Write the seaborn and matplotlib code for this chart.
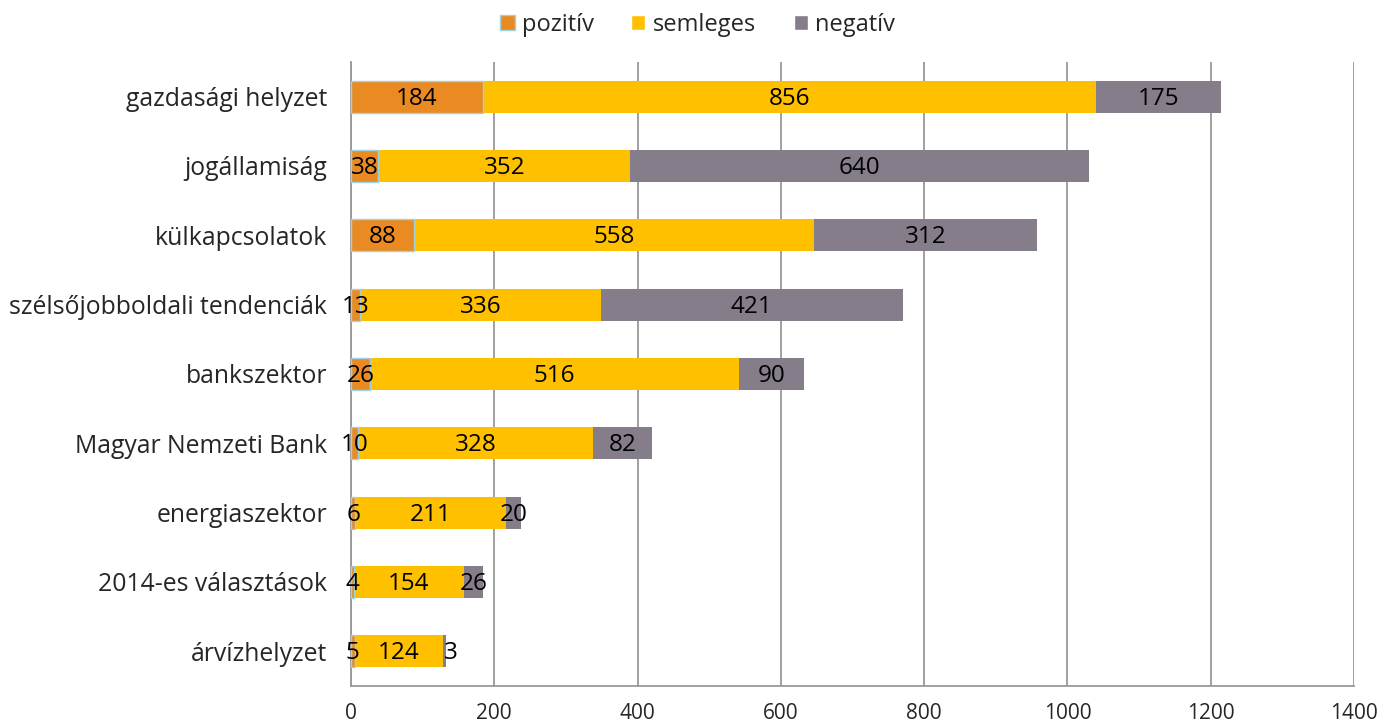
import matplotlib
matplotlib.use("Agg")
import matplotlib.pyplot as plt
import seaborn as sns
import pandas as pd
import numpy as np
from matplotlib.patches import Patch

categories = ["gazdasági helyzet", "jogállamiság", "külkapcsolatok",
              "szélsőjobboldali tendenciák", "bankszektor", "Magyar Nemzeti Bank",
              "energiaszektor", "2014-es választások", "árvízhelyzet"]
pozitiv = [184, 38, 88, 13, 26, 10, 6, 4, 5]
semleges = [856, 352, 558, 336, 516, 328, 211, 154, 124]
negativ = [175, 640, 312, 421, 90, 82, 20, 26, 3]
x_ticks = [0, 200, 400, 600, 800, 1000, 1200, 1400]

sns.set_theme(style="white")
plt.rcParams['font.family'] = ['Open Sans', 'DejaVu Sans']

df = pd.DataFrame({"cat": categories, "poz": pozitiv, "sem": semleges, "neg": negativ})
df["c1"] = df["poz"]
df["c2"] = df["poz"] + df["sem"]
df["c3"] = df["c2"] + df["neg"]

c_poz, c_sem, c_neg = "#EA8A22", "#FFC000", "#857D8A"

fig = plt.figure(figsize=(13.95, 7.24), dpi=100)
ax = fig.add_axes([0.2516, 0.0525, 0.719, 0.862])

w = 0.46
sns.barplot(data=df, y="cat", x="c3", color=c_neg, orient="h", width=w, ax=ax,
            saturation=1, linewidth=0, zorder=3)
sns.barplot(data=df, y="cat", x="c2", color=c_sem, orient="h", width=w, ax=ax,
            saturation=1, linewidth=0, zorder=3)
sns.barplot(data=df, y="cat", x="c1", color=c_poz, orient="h", width=w, ax=ax,
            saturation=1, linewidth=1, edgecolor="#9fd3e3", zorder=3)

fs = 17.5
for i, r in df.iterrows():
    ax.text(r["poz"] / 2, i + 0.03, str(r["poz"]), ha="center", va="center", fontsize=fs, color="black", zorder=5)
    ax.text(r["c1"] + r["sem"] / 2, i + 0.03, str(r["sem"]), ha="center", va="center", fontsize=fs, color="black", zorder=5)
    xn = r["c2"] + r["neg"] / 2
    if r["neg"] < 10:
        xn = r["c3"] + 8
    ax.text(xn, i + 0.03, str(r["neg"]), ha="center", va="center", fontsize=fs, color="black", zorder=5)

ax.set_xlim(0, 1400)
ax.set_ylim(len(categories) - 0.5, -0.5)
ax.set_xticks(x_ticks)
ax.set_xticklabels([str(t) for t in x_ticks], fontsize=15)
ax.set_yticks(range(len(categories)))
ax.set_yticklabels(categories, fontsize=17.8)
ax.set_yticks(np.arange(-0.5, len(categories) + 0.5, 1), minor=True)
ax.set_xlabel("")
ax.set_ylabel("")
ax.grid(axis="x", color="#999999", linewidth=1.3, zorder=0)
ax.set_axisbelow(True)
for s in ["top", "right"]:
    ax.spines[s].set_visible(False)
for s in ["left", "bottom"]:
    ax.spines[s].set_color("#999999")
    ax.spines[s].set_linewidth(1.3)
ax.tick_params(axis="y", which="major", length=0, pad=17)
ax.tick_params(axis="y", which="minor", length=6, color="#999999", width=1.2, direction="out")
ax.tick_params(axis="x", which="major", length=6, color="#999999", width=1.2, direction="out", pad=6)

handles = [Patch(facecolor=c_poz, edgecolor="#9fd3e3", label="pozitív"),
           Patch(facecolor=c_sem, label="semleges"),
           Patch(facecolor=c_neg, label="negatív")]
fig.legend(handles=handles, loc="upper center", bbox_to_anchor=(0.5, 1.012), ncol=3, frameon=False,
           fontsize=17, handlelength=0.6, handleheight=0.6, handletextpad=0.3, columnspacing=1.6)

fig.savefig("out.png", dpi=100)
